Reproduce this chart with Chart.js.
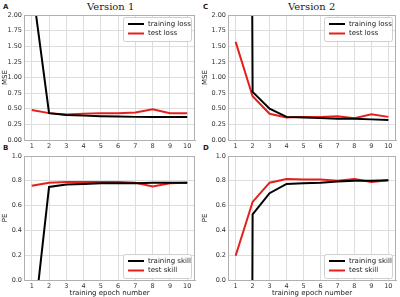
<!DOCTYPE html>
<html><head><meta charset="utf-8">
<script src="https://cdn.jsdelivr.net/npm/chart.js@4"></script>
<style>
 body{margin:0;background:#fff;width:400px;height:297px;position:relative;overflow:hidden;font-family:"DejaVu Sans",sans-serif}
 canvas{position:absolute}
 .ttl{position:absolute;font-family:"DejaVu Serif",serif;font-size:10px;color:#222}
 .lt{position:absolute;font-size:7px;font-weight:bold;color:#222}
</style>
</head>
<body>
<div class="ttl" style="left:87px;top:1px">Version 1</div>
<div class="ttl" style="left:288px;top:1px">Version 2</div>
<div class="lt" style="left:3px;top:3px">A</div>
<div class="lt" style="left:203px;top:3px">C</div>
<div class="lt" style="left:3px;top:144px">B</div>
<div class="lt" style="left:203px;top:144px">D</div>
<canvas id="cA" width="200" height="150" style="left:0;top:0"></canvas>
<canvas id="cC" width="200" height="150" style="left:200px;top:0"></canvas>
<canvas id="cB" width="200" height="147" style="left:0;top:150px"></canvas>
<canvas id="cD" width="200" height="147" style="left:200px;top:150px"></canvas>
<script>
var epochs = [1,2,3,4,5,6,7,8,9,10];

// Version 1
var v1TrainLoss = [2.52,0.43,0.40,0.39,0.38,0.375,0.37,0.37,0.37,0.37];
var v1TestLoss  = [0.48,0.43,0.41,0.42,0.43,0.43,0.44,0.49,0.43,0.43];
var v1TrainSkill = [-0.5,0.75,0.77,0.775,0.78,0.78,0.78,0.785,0.785,0.785];
var v1TestSkill  = [0.76,0.785,0.79,0.79,0.79,0.79,0.785,0.755,0.78,0.785];

// Version 2
var v2TrainLoss = [60,0.77,0.50,0.37,0.36,0.35,0.34,0.34,0.33,0.32];
var v2TestLoss  = [1.57,0.70,0.42,0.36,0.37,0.37,0.38,0.35,0.41,0.37];
var v2TrainSkill = [-40,0.53,0.70,0.775,0.78,0.785,0.795,0.80,0.80,0.805];
var v2TestSkill  = [0.196,0.63,0.785,0.815,0.81,0.81,0.80,0.815,0.79,0.805];

var lossTicks = [0,0.25,0.5,0.75,1,1.25,1.5,1.75,2];
var skillTicks = [0,0.2,0.4,0.6,0.8,1];

var BLACK = '#000000', RED = '#e3201c';
var tickFont = {family:'DejaVu Sans', size:6.5};

// legend drawn inside the plot area, matplotlib style
var innerLegend = {
  id:'innerLegend',
  afterDatasetsDraw: function(chart, args, o){
    var ctx = chart.ctx, a = chart.chartArea;
    var w = 68, h = 24;
    var x = a.right - w - 4;
    var y = o.pos === 'top' ? a.top + 2 : a.bottom - h - 2;
    ctx.save();
    ctx.fillStyle = 'rgba(255,255,255,0.9)';
    ctx.strokeStyle = '#d0d0d0';
    ctx.lineWidth = 1;
    ctx.beginPath();
    ctx.roundRect(x + 0.5, y + 0.5, w, h, 2);
    ctx.fill(); ctx.stroke();
    ctx.font = '7px "DejaVu Sans"';
    ctx.textBaseline = 'middle';
    chart.data.datasets.forEach(function(ds, i){
      var yy = y + 7 + i * 9.5;
      ctx.strokeStyle = ds.borderColor;
      ctx.lineWidth = 2;
      ctx.beginPath(); ctx.moveTo(x + 5, yy); ctx.lineTo(x + 21, yy); ctx.stroke();
      ctx.fillStyle = '#222';
      ctx.fillText(ds.label, x + 25, yy);
    });
    ctx.restore();
  }
};

function makeChart(id, tr, te, labels, yTicks, yMax, yLabel, legPos, showXTitle, pad){
  var decimals = yMax === 2 ? 2 : 1;
  return new Chart(document.getElementById(id), {
    type: 'line',
    data: {
      labels: epochs,
      datasets: [
        {label: labels[0], data: epochs.map(function(e,i){return {x:e,y:tr[i]};}), borderColor: BLACK, borderWidth: 2, pointRadius: 0, tension: 0, fill: false},
        {label: labels[1], data: epochs.map(function(e,i){return {x:e,y:te[i]};}), borderColor: RED, borderWidth: 2, pointRadius: 0, tension: 0, fill: false}
      ]
    },
    options: {
      responsive: false,
      animation: false,
      layout: {padding: pad},
      plugins: {legend: {display: false}, tooltip: {enabled: false}, innerLegend: {pos: legPos}},
      scales: {
        x: {
          type: 'linear', min: 0.55, max: 10.45,
          afterBuildTicks: function(s){ s.ticks = epochs.map(function(v){return {value:v};}); },
          afterFit: function(s){ s.height = showXTitle ? 17 : 10; },
          grid: {color: '#dddddd', drawTicks: false, lineWidth: 1},
          border: {color: '#b0b0b0'},
          ticks: {font: tickFont, color: '#333', padding: 2, maxRotation: 0},
          title: {display: showXTitle, text: 'training epoch number', font: {family:'DejaVu Sans', size: 7}, color: '#222', padding: 0}
        },
        y: {
          min: 0, max: yMax,
          afterBuildTicks: function(s){ s.ticks = yTicks.map(function(v){return {value:v};}); },
          afterFit: function(s){ s.width = pad.yw; },
          grid: {color: '#dddddd', drawTicks: false, lineWidth: 1},
          border: {color: '#b0b0b0'},
          ticks: {font: tickFont, color: '#333', padding: 2, callback: function(v){ return v.toFixed(decimals); }},
          title: {display: true, text: yLabel, font: {family:'DejaVu Sans', size: 7}, color: '#222', padding: 1}
        }
      }
    },
    plugins: [innerLegend, {
      id: 'frame',
      afterDraw: function(chart){
        var c = chart.ctx, a = chart.chartArea;
        c.save(); c.strokeStyle = '#b0b0b0'; c.lineWidth = 1;
        c.strokeRect(a.left + 0.5, a.top + 0.5, a.right - a.left - 1, a.bottom - a.top);
        c.restore();
      }
    }]
  });
}

makeChart('cA', v1TrainLoss, v1TestLoss, ['training loss','test loss'], lossTicks, 2, 'MSE', 'top', false, {top:15, right:5, left:0, bottom:0, yw:24});
makeChart('cC', v2TrainLoss, v2TestLoss, ['training loss','test loss'], lossTicks, 2, 'MSE', 'top', false, {top:15, right:4, left:0, bottom:0, yw:28});
makeChart('cB', v1TrainSkill, v1TestSkill, ['training skill','test skill'], skillTicks, 1, 'PE', 'bottom', true, {top:6, right:5, left:0, bottom:0, yw:24});
makeChart('cD', v2TrainSkill, v2TestSkill, ['training skill','test skill'], skillTicks, 1, 'PE', 'bottom', true, {top:6, right:4, left:0, bottom:0, yw:28});
</script>
</body></html>
